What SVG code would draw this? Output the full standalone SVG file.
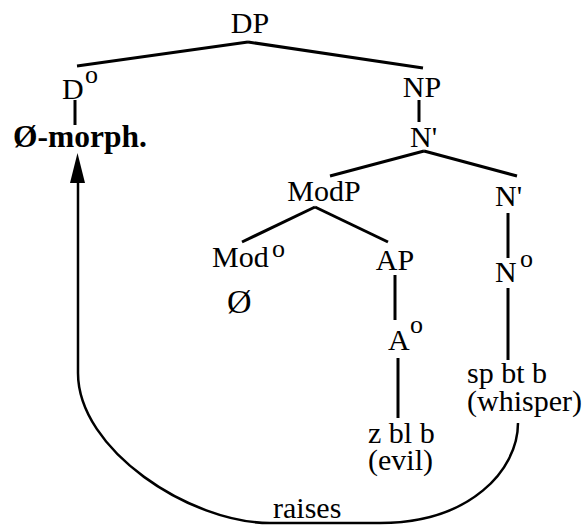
<svg xmlns="http://www.w3.org/2000/svg" width="587" height="525" viewBox="0 0 587 525">
<defs>
<style>
text{font-family:"Liberation Serif","Times New Roman",serif;font-size:30px;fill:#000}
.b{font-weight:bold;font-size:31.5px}
.sup{font-size:26px}
.big{font-size:34px}
.ln{stroke:#000;stroke-width:3;fill:none;stroke-linecap:butt}
.arc{stroke:#000;stroke-width:2.5;fill:none}
</style>
</defs>
<rect width="587" height="525" fill="#fff"/>
<g id="connectors">
<path class="ln" d="M248,42 L77,66"/>
<path class="ln" d="M248,42 L423,68"/>
<path class="ln" d="M75,100 L75,125"/>
<path class="ln" d="M419,100 L419,122"/>
<path class="ln" d="M424,151 L330,176"/>
<path class="ln" d="M424,151 L517,176"/>
<path class="ln" d="M315,207 L242,242"/>
<path class="ln" d="M315,207 L388,242"/>
<path class="ln" d="M395,275 L395,320"/>
<path class="ln" d="M398,358 L398,418"/>
<path class="ln" d="M508,213 L508,258"/>
<path class="ln" d="M508,288 L508,360"/>
<path class="arc" d="M518,423 C518,470 470,523 380,523 L270,523 C190,523 78,450 78,373 L78,183"/>
<path d="M77.5,153 L85,183 L70,183 Z" fill="#000"/>
</g>
<g id="DP"><text x="250" y="33" text-anchor="middle">DP</text></g>
<g id="D0"><text x="62" y="99">D</text><text class="sup" x="85" y="83">o</text></g>
<g id="Zero-morph"><text class="b" x="13" y="147">Ø-morph.</text></g>
<g id="NP"><text x="422" y="97" text-anchor="middle">NP</text></g>
<g id="Nbar1"><text x="410" y="147">N'</text></g>
<g id="ModP"><text x="324" y="201" text-anchor="middle">ModP</text></g>
<g id="Mod0"><text x="212" y="267">Mod</text><text class="sup" x="272" y="257">o</text></g>
<g id="Zero"><text class="big" x="227" y="313">Ø</text></g>
<g id="AP"><text x="395" y="270" text-anchor="middle">AP</text></g>
<g id="A0"><text x="388" y="350">A</text><text class="sup" x="410" y="333">o</text></g>
<g id="evil"><text><tspan x="368" y="443">z bl b</tspan><tspan x="368" y="470">(evil)</tspan></text></g>
<g id="Nbar2"><text x="495" y="206">N'</text></g>
<g id="N0"><text x="495" y="282">N</text><text class="sup" x="520" y="267">o</text></g>
<g id="whisper"><text><tspan x="467" y="383">sp bt b</tspan><tspan x="467" y="411">(whisper)</tspan></text></g>
<g id="raises"><text x="273" y="518">raises</text></g>
</svg>
